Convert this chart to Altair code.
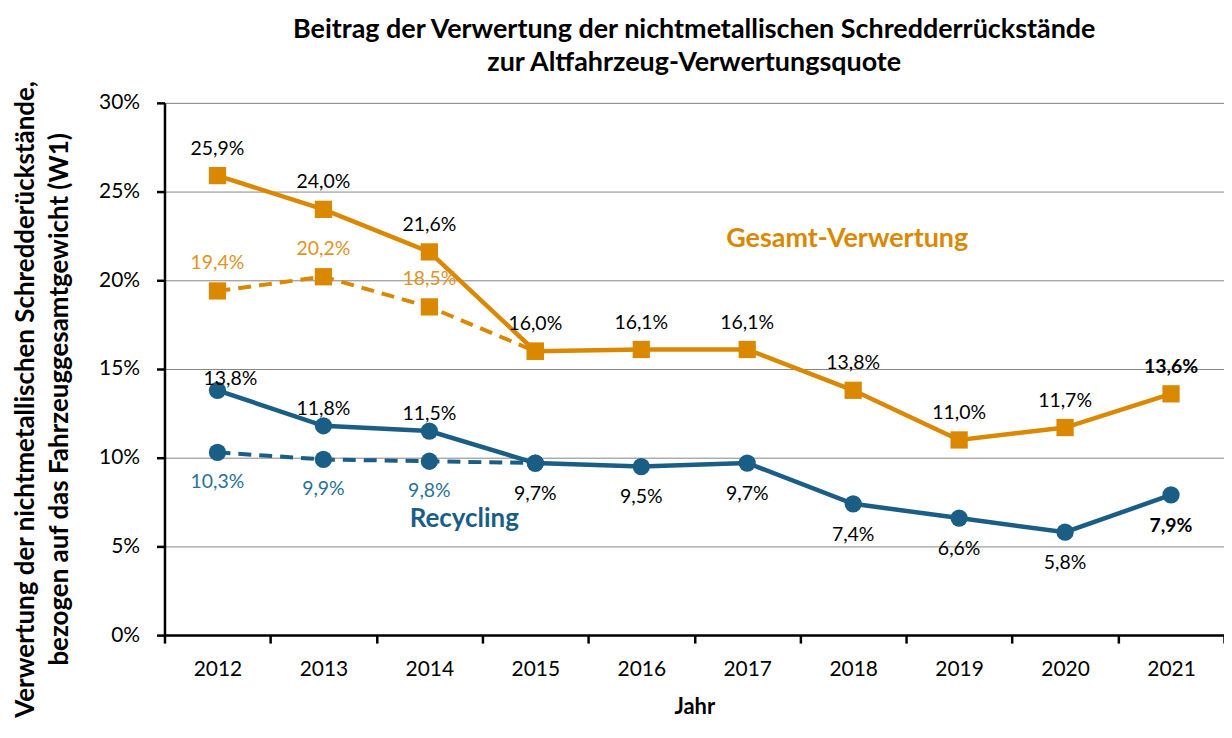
import altair as alt
import pandas as pd

years = ["2012", "2013", "2014", "2015", "2016", "2017", "2018", "2019", "2020", "2021"]
gesamt = [25.9, 24.0, 21.6, 16.0, 16.1, 16.1, 13.8, 11.0, 11.7, 13.6]
recycling = [13.8, 11.8, 11.5, 9.7, 9.5, 9.7, 7.4, 6.6, 5.8, 7.9]
dash_years = ["2012", "2013", "2014", "2015"]
gesamt_dash = [19.4, 20.2, 18.5, 16.0]
recycling_dash = [10.3, 9.9, 9.8, 9.7]

ann_text = ["Gesamt-Verwertung", "Recycling"]
ann_year = ["2018", "2014"]
ann_value = [22.3, 6.55]

ORANGE = "#DA8800"
BLUE = "#1A5E85"
ORANGE_L = "#E0931F"
BLUE_L = "#2B7196"
FONT = "Lato"


def fmt(v):
    return f"{v:.1f}".replace(".", ",") + "%"


solid = pd.DataFrame(
    {"year": years * 2, "value": gesamt + recycling,
     "series": ["Gesamt"] * len(years) + ["Recycling"] * len(years)}
)
solid["label"] = solid["value"].map(fmt)
dashed = pd.DataFrame(
    {"year": dash_years * 2, "value": gesamt_dash + recycling_dash,
     "series": ["Gesamt"] * len(dash_years) + ["Recycling"] * len(dash_years)}
)
dashed["label"] = dashed["value"].map(fmt)
ann = pd.DataFrame({"text": ann_text, "year": ann_year, "value": ann_value})

xs = alt.X(
    "year:N",
    scale=alt.Scale(type="band", paddingInner=0, paddingOuter=0, domain=years),
    axis=alt.Axis(
        title="Jahr", titleFont=FONT, titleFontSize=22, titleFontWeight="bold",
        titleColor="black", titlePadding=17,
        labelFont=FONT, labelFontSize=21, labelColor="black", labelPadding=16,
        labelAngle=0, tickBand="extent", tickSize=8, tickWidth=2.5, tickColor="black",
        domainColor="black", domainWidth=2.5, grid=False,
    ),
)
ys = alt.Y(
    "value:Q",
    scale=alt.Scale(domain=[0, 30], nice=False),
    axis=alt.Axis(
        values=[0, 5, 10, 15, 20, 25, 30], labelExpr="datum.value + '%'",
        labelFont=FONT, labelFontSize=21, labelColor="black", labelPadding=17,
        tickSize=8, tickWidth=2.5, tickColor="black",
        domainColor="black", domainWidth=2.5,
        grid=True, gridColor="#868686", gridWidth=1,
        title=["Verwertung der nichtmetallischen Schredderückstände,",
               "bezogen auf das Fahrzeuggesamtgewicht (W1)"],
        titleFont=FONT, titleFontSize=26, titleFontWeight="bold", titleColor="black",
        titleLineHeight=34, titleX=-139, titleY=297, titleBaseline="middle",
        titleAlign="center", titleAngle=-90,
    ),
)

color = alt.Color("series:N", scale=alt.Scale(domain=["Gesamt", "Recycling"], range=[ORANGE, BLUE]), legend=None)
shape = alt.Shape("series:N", scale=alt.Scale(domain=["Gesamt", "Recycling"], range=["square", "circle"]), legend=None)

base_s = alt.Chart(solid).encode(x=xs, y=ys)
base_d = alt.Chart(dashed).encode(x=xs, y=ys)

line_d = base_d.mark_line(strokeWidth=4, strokeDash=[13, 8]).encode(color=color, detail="series:N")
line_s = base_s.mark_line(strokeWidth=4.5).encode(color=color, detail="series:N")
pts_d = base_d.mark_point(filled=True, opacity=1, size=300).encode(color=color, shape=shape)
pts_s = base_s.mark_point(filled=True, opacity=1, size=300).encode(color=color, shape=shape)

txt = dict(font=FONT, fontSize=19.5, align="center", baseline="middle")
g_lab = base_s.transform_filter("datum.series == 'Gesamt' && datum.year != '2021'").mark_text(dy=-27, color="black", **txt).encode(text="label:N")
g_lab21 = base_s.transform_filter("datum.series == 'Gesamt' && datum.year == '2021'").mark_text(dy=-27, color="black", fontWeight="bold", **txt).encode(text="label:N")
r_lab_up = base_s.transform_filter("datum.series == 'Recycling' && toNumber(datum.year) <= 2014 && datum.year != '2012'").mark_text(dy=-17, color="black", **txt).encode(text="label:N")
r_lab_12 = base_s.transform_filter("datum.series == 'Recycling' && datum.year == '2012'").mark_text(dy=-11, dx=13, color="black", **txt).encode(text="label:N")
r_lab_dn = base_s.transform_filter("datum.series == 'Recycling' && toNumber(datum.year) >= 2015 && datum.year != '2021'").mark_text(dy=31, color="black", **txt).encode(text="label:N")
r_lab21 = base_s.transform_filter("datum.series == 'Recycling' && datum.year == '2021'").mark_text(dy=31, color="black", fontWeight="bold", **txt).encode(text="label:N")
gd_lab = base_d.transform_filter("datum.series == 'Gesamt' && datum.year != '2015'").mark_text(dy=-28, color=ORANGE_L, **txt).encode(text="label:N")
rd_lab = base_d.transform_filter("datum.series == 'Recycling' && datum.year != '2015'").mark_text(dy=30, color=BLUE_L, **txt).encode(text="label:N")

ann_base = alt.Chart(ann).encode(x=xs, y=ys, text="text:N")
ann_g = ann_base.transform_filter("datum.text == 'Gesamt-Verwertung'").mark_text(font=FONT, fontSize=27, fontWeight="bold", color=ORANGE, dx=-6)
ann_r = ann_base.transform_filter("datum.text == 'Recycling'").mark_text(font=FONT, fontSize=26, fontWeight="bold", color=BLUE, dx=35)

chart = alt.layer(
    line_d, line_s, pts_d, pts_s,
    g_lab, g_lab21, r_lab_up, r_lab_12, r_lab_dn, r_lab21, gd_lab, rd_lab,
    ann_g, ann_r,
).properties(
    width=1063, height=534,
    title=alt.TitleParams(
        text=["Beitrag der Verwertung der nichtmetallischen Schredderrückstände",
              "zur Altfahrzeug-Verwertungsquote"],
        font=FONT, fontSize=27, fontWeight="bold", color="black",
        lineHeight=33, anchor="middle", offset=3,
    ),
    autosize=alt.AutoSizeParams(type="none"),
    padding={"left": 157, "top": 94, "right": 0, "bottom": 90},
).configure_view(stroke="#888888", strokeWidth=1.5).configure(background="white")

chart.save("out.html", embed_options={"renderer": "svg", "actions": False})
